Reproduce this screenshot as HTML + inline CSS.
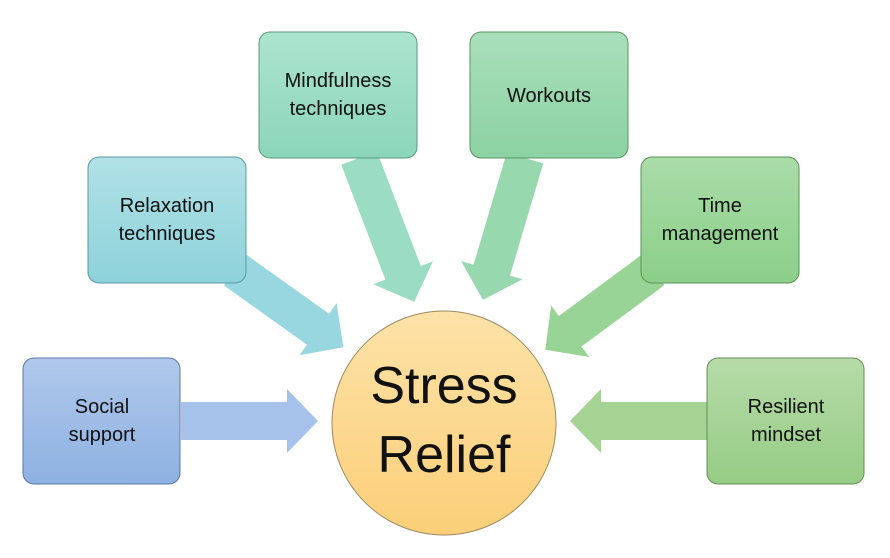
<!DOCTYPE html>
<html><head><meta charset="utf-8"><style>
html,body{margin:0;padding:0;background:#fff;}
svg{display:block;}
text{font-family:"Liberation Sans",sans-serif;fill:#111;}
</style></head><body>
<svg width="890" height="558" viewBox="0 0 890 558" xmlns="http://www.w3.org/2000/svg">
<defs>
<linearGradient id="gS" x1="0" y1="0" x2="0" y2="1"><stop offset="0" stop-color="#b0c8eb"/><stop offset="1" stop-color="#8db1e2"/></linearGradient>
<linearGradient id="gR" x1="0" y1="0" x2="0" y2="1"><stop offset="0" stop-color="#b1e1e6"/><stop offset="1" stop-color="#8dd2db"/></linearGradient>
<linearGradient id="gM" x1="0" y1="0" x2="0" y2="1"><stop offset="0" stop-color="#ace4cf"/><stop offset="1" stop-color="#8bd5ba"/></linearGradient>
<linearGradient id="gW" x1="0" y1="0" x2="0" y2="1"><stop offset="0" stop-color="#a9dfbb"/><stop offset="1" stop-color="#8bd2a2"/></linearGradient>
<linearGradient id="gT" x1="0" y1="0" x2="0" y2="1"><stop offset="0" stop-color="#aadca8"/><stop offset="1" stop-color="#8bcf89"/></linearGradient>
<linearGradient id="gL" x1="0" y1="0" x2="0" y2="1"><stop offset="0" stop-color="#b6dba8"/><stop offset="1" stop-color="#96cc85"/></linearGradient>
<linearGradient id="gC" x1="0" y1="0" x2="0" y2="1"><stop offset="0" stop-color="#fde2a8"/><stop offset="1" stop-color="#fbcf78"/></linearGradient>
</defs>

<!-- arrows -->
<polygon fill="#a6c1ea" points="0,-19 106,-19 106,-32 137,0 106,32 106,19 0,19" transform="translate(181,421)"/>
<polygon fill="#98d7df" points="0,-19 102,-19 102,-32 133,0 102,32 102,19 0,19" transform="translate(235,270) rotate(35.5)"/>
<polygon fill="#9bdcc5" points="0,-19 123,-19 123,-32 154,0 123,32 123,19 0,19" transform="translate(359,158) rotate(69)"/>
<polygon fill="#98d8ae" points="0,-19 117,-19 117,-32 148,0 117,32 117,19 0,19" transform="translate(525,158) rotate(106.5)"/>
<polygon fill="#98d495" points="0,-19 103,-19 103,-32 134,0 103,32 103,19 0,19" transform="translate(653,270) rotate(143.5)"/>
<polygon fill="#a4d393" points="0,-19 106,-19 106,-32 137,0 106,32 106,19 0,19" transform="translate(707,421) rotate(180)"/>

<!-- boxes -->
<rect x="23" y="358" width="157" height="126" rx="11" fill="url(#gS)" stroke="#5b7aa8" stroke-width="1"/>
<rect x="88" y="157" width="158" height="126" rx="11" fill="url(#gR)" stroke="#5a9aa2" stroke-width="1"/>
<rect x="259" y="32" width="158" height="126" rx="11" fill="url(#gM)" stroke="#5a9a80" stroke-width="1"/>
<rect x="470" y="32" width="158" height="126" rx="11" fill="url(#gW)" stroke="#5a9466" stroke-width="1"/>
<rect x="641" y="157" width="158" height="126" rx="11" fill="url(#gT)" stroke="#5a9258" stroke-width="1"/>
<rect x="707" y="358" width="157" height="126" rx="11" fill="url(#gL)" stroke="#648f55" stroke-width="1"/>

<circle cx="444" cy="423" r="112" fill="url(#gC)" stroke="#9c8a62" stroke-width="1"/>

<g font-size="20" text-anchor="middle">
<text x="102" y="413">Social</text><text x="102" y="441">support</text>
<text x="167" y="212">Relaxation</text><text x="167" y="240">techniques</text>
<text x="338" y="87">Mindfulness</text><text x="338" y="115">techniques</text>
<text x="549" y="102">Workouts</text>
<text x="720" y="212">Time</text><text x="720" y="240">management</text>
<text x="786" y="413">Resilient</text><text x="786" y="441">mindset</text>
</g>
<g font-size="52" text-anchor="middle">
<text x="444" y="403">Stress</text>
<text x="444" y="472">Relief</text>
</g>
</svg>
</body></html>
